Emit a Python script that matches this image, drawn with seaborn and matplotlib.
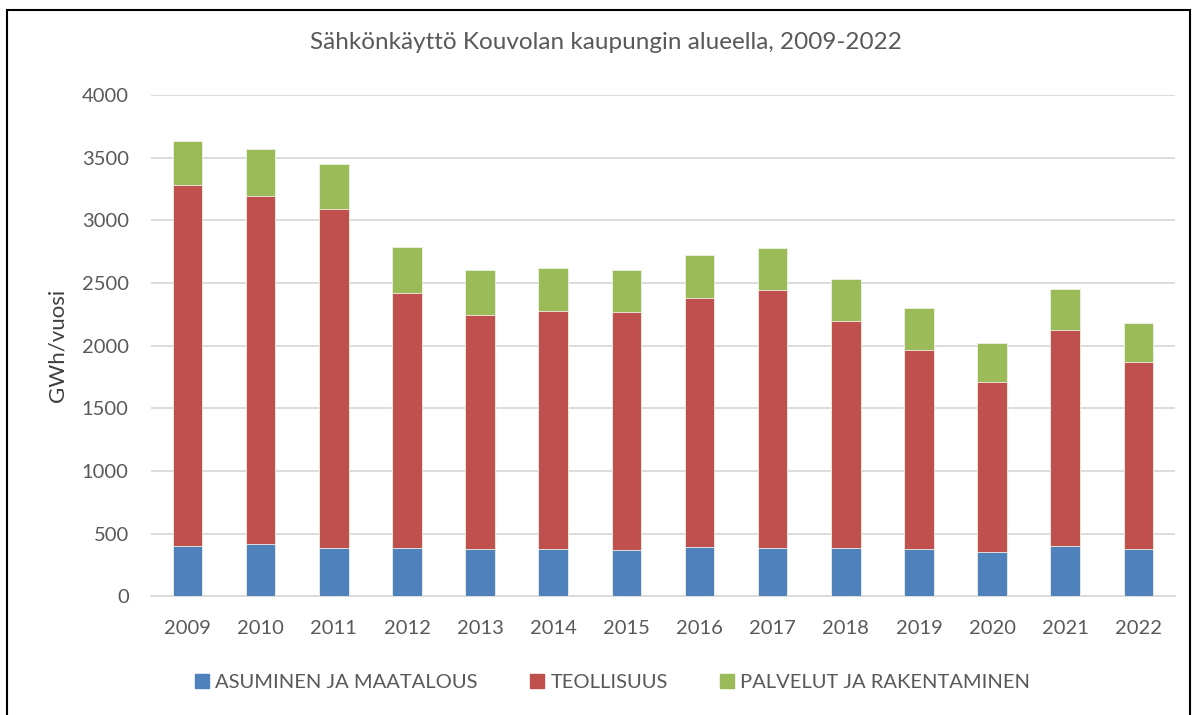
import numpy as np
import pandas as pd
import seaborn as sns
import matplotlib.pyplot as plt
from matplotlib.patches import Rectangle

# Vuodet ja sarjat (GWh/vuosi), luettu kuvasta
vuodet = ["2009", "2010", "2011", "2012", "2013", "2014", "2015",
          "2016", "2017", "2018", "2019", "2020", "2021", "2022"]
asuminen = [405, 421, 383, 383, 381, 375, 373, 391, 389, 389, 381, 357, 399, 378]
teollisuus = [2878, 2774, 2711, 2040, 1866, 1901, 1898, 1992, 2058, 1805, 1587, 1355, 1726, 1494]
palvelut = [351, 375, 356, 365, 354, 341, 333, 341, 335, 336, 330, 311, 330, 306]

sarjat = ["ASUMINEN JA MAATALOUS", "TEOLLISUUS", "PALVELUT JA RAKENTAMINEN"]
varit = ["#4F81BD", "#C0504D", "#9BBB59"]

df = pd.DataFrame({"vuosi": vuodet, "a": asuminen, "t": teollisuus, "p": palvelut})
df["kerros1"] = df["a"]
df["kerros2"] = df["a"] + df["t"]
df["kerros3"] = df["a"] + df["t"] + df["p"]

sns.set_theme(style="white")
plt.rcParams["font.family"] = ["Lato", "DejaVu Sans"]

fig = plt.figure(figsize=(11.97, 7.15), dpi=100)
ax = fig.add_axes([0.1261, 0.166, 0.8555, 0.701])

# Pinotut pylväät: piirretään ylin kerros ensin
for kerros, vari in zip(["kerros3", "kerros2", "kerros1"], varit[::-1]):
    sns.barplot(data=df, x="vuosi", y=kerros, color=vari, width=0.405,
                edgecolor="#eef2e6", linewidth=0.6, saturation=1, ax=ax, zorder=3)

ax.set_ylim(0, 4000)
ax.set_yticks(np.arange(0, 4001, 500))
ax.set_xlim(-0.5, len(vuodet) - 0.5)
ax.yaxis.grid(True, color="#d9d9d9", linewidth=1.3, zorder=0)
ax.set_axisbelow(True)
for s in ["top", "right", "left"]:
    ax.spines[s].set_visible(False)
ax.spines["bottom"].set_color("#d9d9d9")
ax.spines["bottom"].set_linewidth(1.3)
ax.tick_params(axis="both", labelsize=14.5, colors="#595959", length=0)
ax.tick_params(axis="x", pad=17)
ax.tick_params(axis="y", pad=16)
ax.set_xlabel("")
ax.set_ylabel("GWh/vuosi", fontsize=16, color="#404040", labelpad=10)

fig.suptitle("Sähkönkäyttö Kouvolan kaupungin alueella, 2009-2022",
             x=0.506, y=0.955, fontsize=17.5, color="#595959")

kahvat = [Rectangle((0, 0), 1, 1, color=v) for v in varit]
fig.legend(kahvat, sarjat, loc="center", bbox_to_anchor=(0.512, 0.046), ncol=3,
           frameon=False, fontsize=14.5, labelcolor="#595959",
           handlelength=0.7, handleheight=0.7, handletextpad=0.3, columnspacing=2.6)

# Kaavion kehys
fig.patches.append(Rectangle((0.006, -0.01), 0.988, 0.996, transform=fig.transFigure,
                             fill=False, edgecolor="black", linewidth=1.5))

plt.savefig("out.png", dpi=100)
plt.close()
